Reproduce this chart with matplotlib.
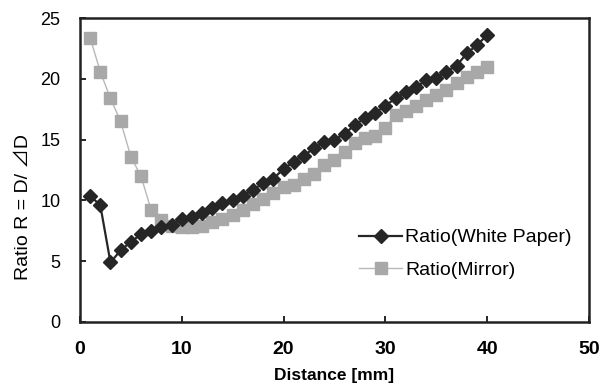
import matplotlib
matplotlib.use("Agg")
import matplotlib.pyplot as plt

plt.rcParams['font.family'] = ['Liberation Sans', 'DejaVu Sans', 'Noto Sans CJK JP']

distance = list(range(1, 41))
white_paper = [10.4, 9.6, 4.9, 5.9, 6.6, 7.2, 7.5, 7.8, 8.0, 8.5,
               8.6, 9.0, 9.4, 9.8, 10.0, 10.4, 10.9, 11.4, 11.8, 12.6,
               13.2, 13.7, 14.3, 14.8, 15.0, 15.5, 16.2, 16.8, 17.2, 17.8,
               18.4, 18.9, 19.3, 19.9, 20.1, 20.6, 21.1, 22.1, 22.8, 23.6]
mirror = [23.4, 20.6, 18.4, 16.5, 13.6, 12.0, 9.2, 8.4, 7.9, 7.8,
          7.8, 7.9, 8.2, 8.5, 8.8, 9.2, 9.7, 10.1, 10.6, 11.1,
          11.3, 11.8, 12.2, 12.9, 13.3, 14.0, 14.7, 15.1, 15.3, 16.0,
          17.0, 17.4, 17.8, 18.3, 18.7, 19.1, 19.7, 20.2, 20.6, 21.0]
x_ticks = [0, 10, 20, 30, 40, 50]
y_ticks = [0, 5, 10, 15, 20, 25]

fig = plt.figure(figsize=(6.01, 3.87), dpi=100)
ax = fig.add_axes([0.133, 0.168, 0.847, 0.785])

ax.plot(distance, mirror, color='#b8b8b8', lw=1.0, marker='s', ms=8,
        mfc='#a8a8a8', mec='#a8a8a8', label='Ratio(Mirror)', zorder=2)
ax.plot(distance, white_paper, color='#262626', lw=1.6, marker='D', ms=7,
        mfc='#262626', mec='#262626', label='Ratio(White Paper)', zorder=3)

ax.set_xlim(0, 50)
ax.set_ylim(0, 25)
ax.set_xticks(x_ticks)
ax.set_yticks(y_ticks)
ax.tick_params(direction='in', length=4, width=1.2)
ax.tick_params(axis='x', labelsize=14, pad=14)
ax.tick_params(axis='y', labelsize=13, pad=14)
for lbl in ax.get_xticklabels():
    lbl.set_fontweight('bold')
for s in ax.spines.values():
    s.set_linewidth(1.8)
    s.set_color('#222222')

ax.set_xlabel('Distance [mm]', fontsize=12.5, fontweight='bold', labelpad=7)
ax.set_ylabel('Ratio R = D/ ⊿D', fontsize=14,
              family=['Liberation Sans', 'Noto Sans CJK JP', 'DejaVu Sans'])
ax.yaxis.set_label_coords(-0.095, 0.38)

h, l = ax.get_legend_handles_labels()
ax.legend(h[::-1], l[::-1], loc='lower right', bbox_to_anchor=(1.0, 0.085),
          frameon=False, fontsize=14, handlelength=2.2, handletextpad=0.15,
          labelspacing=0.75)

fig.savefig('out.png', dpi=100)
